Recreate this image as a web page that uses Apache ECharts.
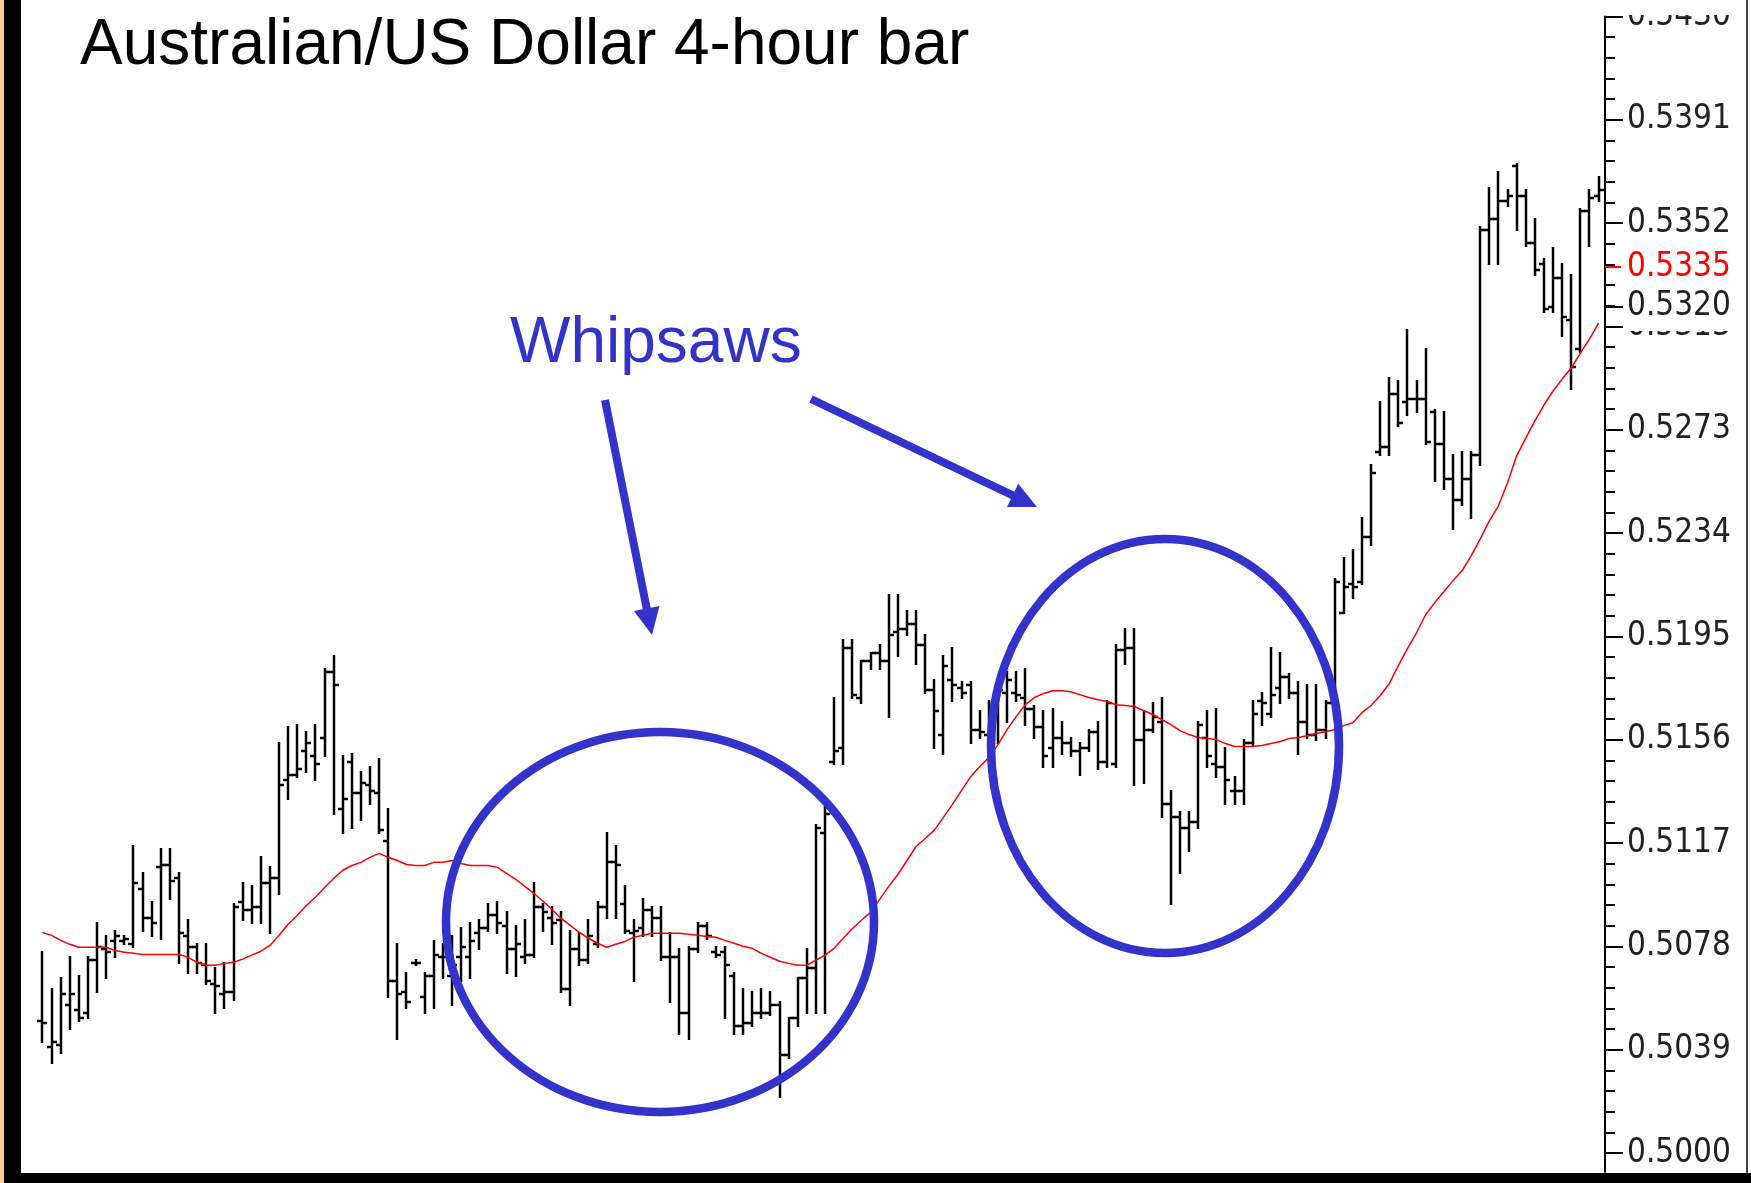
<!DOCTYPE html>
<html>
<head>
<meta charset="utf-8">
<title>Australian/US Dollar 4-hour bar</title>
<script src="https://cdn.jsdelivr.net/npm/echarts@6/dist/echarts.min.js"></script>
<style>
  html, body { margin: 0; padding: 0; background: #fff; }
  #main { width: 1751px; height: 1183px; }
</style>
</head>
<body>
<div id="main"></div>
<script>
// 4-hour OHLC bars
const opens = [
  0.5050,0.5040,0.5041,0.5056,0.5054,0.5053,0.5073,0.5077,0.5080,0.5080,
  0.5079,0.5100,0.5089,0.5108,0.5109,0.5104,0.5082,0.5078,0.5071,0.5064,
  0.5060,0.5061,0.5095,0.5092,0.5093,0.5102,0.5104,0.5141,0.5143,0.5152,
  0.5150,0.5157,0.5182,0.5130,0.5148,0.5136,0.5139,0.5136,0.5118,0.5065,
  0.5061,0.5072,0.5059,0.5067,0.5074,0.5067,0.5074,0.5074,0.5083,0.5085,
  0.5090,0.5086,0.5077,0.5074,0.5075,0.5093,0.5089,0.5088,0.5062,0.5077,
  0.5073,0.5079,0.5093,0.5110,0.5094,0.5083,0.5085,0.5092,0.5089,0.5074,
  0.5074,0.5053,0.5077,0.5086,0.5076,0.5076,0.5067,0.5048,0.5049,0.5053,
  0.5053,0.5056,0.5037,0.5051,0.5066,0.5070,0.5121,0.5148,0.5153,0.5191,
  0.5172,0.5186,0.5189,0.5186,0.5197,0.5198,0.5200,0.5192,0.5175,0.5158,
  0.5179,0.5176,0.5177,0.5160,0.5158,0.5171,0.5174,0.5174,0.5172,0.5168,
  0.5161,0.5153,0.5157,0.5155,0.5152,0.5153,0.5159,0.5148,0.5147,0.5190,
  0.5191,0.5156,0.5160,0.5163,0.5132,0.5127,0.5123,0.5125,0.5157,0.5147,
  0.5146,0.5137,0.5137,0.5155,0.5171,0.5166,0.5176,0.5180,0.5174,0.5163,
  0.5158,0.5160,0.5170,0.5204,0.5215,0.5216,0.5233,0.5265,0.5267,0.5287,
  0.5284,0.5285,0.5285,0.5280,0.5268,0.5255,0.5247,0.5255,0.5264,0.5349,
  0.5353,0.5360,0.5373,0.5362,0.5344,0.5336,0.5320,0.5331,0.5315,0.5304,
  0.5356,0.5362
];
const highs = [
  0.5076,0.5062,0.5066,0.5074,0.5067,0.5074,0.5087,0.5082,0.5084,0.5082,
  0.5116,0.5106,0.5095,0.5115,0.5115,0.5106,0.5088,0.5079,0.5079,0.5070,
  0.5072,0.5094,0.5102,0.5101,0.5112,0.5108,0.5155,0.5161,0.5162,0.5159,
  0.5162,0.5183,0.5188,0.5150,0.5151,0.5144,0.5146,0.5149,0.5130,0.5079,
  0.5068,0.5073,0.5068,0.5080,0.5079,0.5082,0.5085,0.5087,0.5088,0.5094,
  0.5095,0.5091,0.5086,0.5088,0.5102,0.5094,0.5093,0.5091,0.5084,0.5083,
  0.5088,0.5095,0.5121,0.5116,0.5101,0.5088,0.5096,0.5093,0.5093,0.5083,
  0.5077,0.5078,0.5087,0.5087,0.5078,0.5078,0.5068,0.5062,0.5061,0.5062,
  0.5061,0.5057,0.5051,0.5066,0.5077,0.5124,0.5131,0.5172,0.5194,0.5194,
  0.5186,0.5189,0.5192,0.5211,0.5211,0.5205,0.5205,0.5196,0.5179,0.5188,
  0.5191,0.5178,0.5178,0.5167,0.5171,0.5178,0.5182,0.5182,0.5183,0.5169,
  0.5167,0.5168,0.5163,0.5157,0.5155,0.5160,0.5163,0.5171,0.5192,0.5198,
  0.5198,0.5167,0.5170,0.5172,0.5137,0.5129,0.5129,0.5163,0.5167,0.5168,
  0.5153,0.5142,0.5156,0.5171,0.5174,0.5191,0.5189,0.5181,0.5178,0.5177,
  0.5177,0.5171,0.5217,0.5225,0.5228,0.5240,0.5260,0.5284,0.5293,0.5292,
  0.5311,0.5292,0.5304,0.5281,0.5280,0.5264,0.5265,0.5265,0.5350,0.5365,
  0.5371,0.5364,0.5374,0.5364,0.5353,0.5338,0.5342,0.5336,0.5332,0.5357,
  0.5364,0.5369
];
const lows = [
  0.5042,0.5034,0.5038,0.5047,0.5050,0.5051,0.5061,0.5066,0.5074,0.5079,
  0.5078,0.5084,0.5082,0.5081,0.5096,0.5072,0.5068,0.5068,0.5064,0.5053,
  0.5055,0.5058,0.5088,0.5087,0.5087,0.5083,0.5098,0.5134,0.5142,0.5144,
  0.5141,0.5150,0.5128,0.5121,0.5123,0.5126,0.5132,0.5121,0.5059,0.5043,
  0.5055,0.5071,0.5053,0.5055,0.5066,0.5056,0.5065,0.5066,0.5077,0.5084,
  0.5083,0.5068,0.5067,0.5072,0.5074,0.5084,0.5079,0.5061,0.5056,0.5071,
  0.5072,0.5078,0.5089,0.5089,0.5083,0.5065,0.5082,0.5082,0.5073,0.5057,
  0.5045,0.5043,0.5076,0.5081,0.5074,0.5051,0.5045,0.5045,0.5048,0.5051,
  0.5052,0.5021,0.5036,0.5048,0.5053,0.5053,0.5053,0.5147,0.5147,0.5172,
  0.5170,0.5183,0.5183,0.5165,0.5188,0.5196,0.5185,0.5174,0.5153,0.5151,
  0.5171,0.5172,0.5155,0.5157,0.5156,0.5155,0.5163,0.5171,0.5162,0.5157,
  0.5146,0.5146,0.5151,0.5150,0.5143,0.5152,0.5145,0.5146,0.5146,0.5185,
  0.5139,0.5140,0.5159,0.5127,0.5094,0.5106,0.5114,0.5123,0.5146,0.5142,
  0.5132,0.5132,0.5132,0.5154,0.5162,0.5165,0.5170,0.5172,0.5151,0.5157,
  0.5156,0.5157,0.5164,0.5204,0.5210,0.5215,0.5230,0.5264,0.5264,0.5275,
  0.5279,0.5280,0.5268,0.5254,0.5251,0.5236,0.5245,0.5240,0.5260,0.5336,
  0.5336,0.5358,0.5349,0.5343,0.5332,0.5318,0.5318,0.5309,0.5289,0.5303,
  0.5343,0.5360
];
const closes = [
  0.5049,0.5042,0.5060,0.5060,0.5051,0.5073,0.5078,0.5076,0.5082,0.5081,
  0.5102,0.5089,0.5087,0.5109,0.5103,0.5083,0.5078,0.5072,0.5065,0.5063,
  0.5061,0.5093,0.5092,0.5093,0.5102,0.5104,0.5139,0.5143,0.5145,0.5155,
  0.5147,0.5182,0.5177,0.5134,0.5136,0.5140,0.5137,0.5122,0.5065,0.5060,
  0.5057,0.5072,0.5067,0.5075,0.5074,0.5071,0.5078,0.5080,0.5085,0.5090,
  0.5087,0.5077,0.5079,0.5075,0.5093,0.5091,0.5087,0.5062,0.5077,0.5073,
  0.5082,0.5093,0.5110,0.5109,0.5084,0.5084,0.5092,0.5089,0.5074,0.5074,
  0.5053,0.5077,0.5086,0.5082,0.5075,0.5071,0.5048,0.5049,0.5053,0.5053,
  0.5056,0.5037,0.5051,0.5066,0.5070,0.5123,0.5128,0.5152,0.5191,0.5173,
  0.5186,0.5189,0.5186,0.5196,0.5198,0.5200,0.5192,0.5175,0.5167,0.5184,
  0.5177,0.5174,0.5160,0.5159,0.5169,0.5175,0.5179,0.5173,0.5168,0.5161,
  0.5150,0.5157,0.5155,0.5152,0.5153,0.5159,0.5148,0.5170,0.5190,0.5191,
  0.5156,0.5160,0.5165,0.5132,0.5127,0.5123,0.5125,0.5162,0.5150,0.5146,
  0.5141,0.5137,0.5155,0.5166,0.5170,0.5173,0.5180,0.5174,0.5163,0.5158,
  0.5160,0.5170,0.5216,0.5214,0.5214,0.5233,0.5257,0.5267,0.5287,0.5276,
  0.5285,0.5285,0.5269,0.5268,0.5255,0.5247,0.5255,0.5264,0.5349,0.5353,
  0.5360,0.5362,0.5362,0.5344,0.5334,0.5319,0.5331,0.5316,0.5297,0.5356,
  0.5361,0.5364
];
// red moving average
const maValues = [
  0.50834,0.50823,0.50804,0.50789,0.50778,0.50778,0.50778,0.50778,0.50766,0.50759,
  0.50755,0.50751,0.50751,0.50751,0.50751,0.50751,0.50740,0.50721,0.50710,0.50710,
  0.50717,0.50721,0.50733,0.50748,0.50763,0.50785,0.50823,0.50865,0.50899,0.50936,
  0.50967,0.51004,0.51038,0.51069,0.51087,0.51099,0.51118,0.51133,0.51118,0.51106,
  0.51091,0.51087,0.51087,0.51099,0.51099,0.51106,0.51095,0.51087,0.51087,0.51087,
  0.51080,0.51057,0.51035,0.51008,0.50982,0.50952,0.50921,0.50887,0.50861,0.50834,
  0.50812,0.50793,0.50778,0.50789,0.50800,0.50816,0.50823,0.50831,0.50831,0.50831,
  0.50831,0.50827,0.50823,0.50819,0.50816,0.50804,0.50793,0.50782,0.50774,0.50755,
  0.50740,0.50725,0.50717,0.50710,0.50710,0.50729,0.50748,0.50774,0.50812,0.50849,
  0.50880,0.50910,0.50959,0.51008,0.51053,0.51106,0.51159,0.51189,0.51220,0.51269,
  0.51318,0.51371,0.51423,0.51461,0.51495,0.51544,0.51601,0.51650,0.51695,0.51722,
  0.51737,0.51748,0.51748,0.51744,0.51733,0.51722,0.51714,0.51707,0.51695,0.51692,
  0.51688,0.51673,0.51658,0.51639,0.51620,0.51597,0.51582,0.51571,0.51567,0.51563,
  0.51548,0.51537,0.51537,0.51537,0.51541,0.51548,0.51556,0.51567,0.51571,0.51578,
  0.51586,0.51593,0.51601,0.51616,0.51627,0.51665,0.51692,0.51729,0.51775,0.51843,
  0.51907,0.51967,0.52035,0.52081,0.52122,0.52164,0.52201,0.52258,0.52322,0.52390,
  0.52447,0.52534,0.52636,0.52703,0.52768,0.52828,0.52881,0.52926,0.52968,0.53024,
  0.53077,0.53138
];

// price scale
const tickValues = [0.5, 0.50390625, 0.5078125, 0.51171875, 0.515625, 0.51953125,
  0.5234375, 0.52734375, 0.53125, 0.53515625, 0.5390625, 0.54296875];
const tickLabels = ['0.5000', '0.5039', '0.5078', '0.5117', '0.5156', '0.5195',
  '0.5234', '0.5273', '0.5313', '0.5352', '0.5391', '0.5430'];
const maMarker = 0.5335;
const lastPrice = 0.5320;

const yMin = 0.4992826;
const yMax = 0.54296875;

// minor ticks: 5 per major step
const minorTicks = [];
for (let k = 1; k < 55; k++) {
  if (k % 5 !== 0) minorTicks.push(0.5 + k * 0.00078125);
}

const barData = opens.map((o, i) => [i, o, highs[i], lows[i], closes[i]]);
const maData = maValues.map((v, i) => [i, v]);

// the axis font in the picture is narrow; use a narrow face if the box has one
function hasFont(name) {
  const ctx = document.createElement('canvas').getContext('2d');
  const probe = '0.5391 mmmwwwiii';
  ctx.font = '100px monospace';
  const a = ctx.measureText(probe).width;
  ctx.font = '100px "' + name + '", monospace';
  const b = ctx.measureText(probe).width;
  return a !== b;
}
const labelFont = hasFont('Liberation Sans Narrow')
  ? { fontFamily: "'Liberation Sans Narrow', sans-serif", fontSize: 35, color: '#222' }
  : { fontFamily: "'DejaVu Sans Condensed', 'Liberation Sans', sans-serif", fontSize: 33, color: '#222' };

function priceAxis(extra) {
  return Object.assign({
    type: 'value',
    position: 'right',
    min: yMin,
    max: yMax,
    splitLine: { show: false },
    axisLine: { show: false, onZero: false },
    axisTick: { show: false },
    axisLabel: { show: false }
  }, extra);
}

function renderOhlc(params, api) {
  const i = api.value(0);
  const hi = api.coord([i, api.value(2)]);
  const lo = api.coord([i, api.value(3)]);
  const op = api.coord([i, api.value(1)]);
  const cl = api.coord([i, api.value(4)]);
  const x = Math.round(hi[0]);
  const tick = 5;
  const style = { stroke: '#000', lineWidth: 2.5 };
  return {
    type: 'group',
    children: [
      { type: 'line', shape: { x1: x, y1: Math.round(hi[1]) - 1, x2: x, y2: Math.round(lo[1]) + 1 }, style: style },
      { type: 'line', shape: { x1: x - tick, y1: Math.round(op[1]), x2: x, y2: Math.round(op[1]) }, style: style },
      { type: 'line', shape: { x1: x, y1: Math.round(cl[1]), x2: x + tick, y2: Math.round(cl[1]) }, style: style }
    ]
  };
}

// annotations drawn over the chart
const blue = '#3333cc';
const ellipses = [
  { cx: 660, cy: 922, rx: 214, ry: 190 },
  { cx: 1165, cy: 746, rx: 174, ry: 207 }
];
const arrows = [
  { from: [605, 400], to: [652, 635] },
  { from: [811, 399], to: [1037, 507] }
];

function arrowShapes(a) {
  const dx = a.to[0] - a.from[0];
  const dy = a.to[1] - a.from[1];
  const len = Math.sqrt(dx * dx + dy * dy);
  const ux = dx / len, uy = dy / len;
  const headLen = 27, headW = 26;
  const bx = a.to[0] - ux * headLen, by = a.to[1] - uy * headLen;
  return [
    {
      type: 'line', z: 100,
      shape: { x1: a.from[0], y1: a.from[1], x2: bx + ux * 3, y2: by + uy * 3 },
      style: { stroke: blue, lineWidth: 8 }
    },
    {
      type: 'polygon', z: 100,
      shape: { points: [a.to, [bx - uy * headW / 2, by + ux * headW / 2], [bx + uy * headW / 2, by - ux * headW / 2]] },
      style: { fill: blue }
    }
  ];
}

const graphics = [
  { type: 'rect', z: 100, shape: { x: 1607, y: 0, width: 138, height: 15 }, style: { fill: '#fff' } },
  { type: 'rect', z: 100, shape: { x: 0, y: 0, width: 4, height: 1183 }, style: { fill: '#ffcc99' } },
  { type: 'rect', z: 100, shape: { x: 4, y: 0, width: 17, height: 1183 }, style: { fill: '#000' } },
  { type: 'rect', z: 100, shape: { x: 4, y: 1173, width: 1747, height: 10 }, style: { fill: '#000' } },
  { type: 'rect', z: 100, shape: { x: 1746, y: 0, width: 2, height: 1173 }, style: { fill: '#444' } }
];
ellipses.forEach(e => {
  graphics.push({ type: 'ellipse', z: 100, shape: e, style: { fill: null, stroke: blue, lineWidth: 8.5 } });
});
arrows.forEach(a => arrowShapes(a).forEach(s => graphics.push(s)));

const chart = echarts.init(document.getElementById('main'));
chart.setOption({
  animation: false,
  backgroundColor: '#fff',
  title: [
    {
      text: 'Australian/US Dollar 4-hour bar',
      left: 80, top: 14, padding: 0,
      textStyle: { fontFamily: "'Liberation Sans', Arial, sans-serif", fontSize: 64, fontWeight: 'normal', color: '#000' }
    },
    {
      text: 'Whipsaws',
      left: 510, top: 312, padding: 0,
      textStyle: { fontFamily: "'Liberation Sans', Arial, sans-serif", fontSize: 64, fontWeight: 'normal', color: blue }
    }
  ],
  grid: { left: 22, right: 146, top: 15, bottom: 11 },
  xAxis: { type: 'value', min: -2.25, max: 171.71, show: false },
  yAxis: [
    priceAxis({
      axisLine: { show: true, onZero: false, lineStyle: { color: '#000', width: 2 } },
      axisTick: { show: true, length: 18, customValues: tickValues, lineStyle: { color: '#000', width: 2 } },
      axisLabel: Object.assign({
        show: true, customValues: tickValues, margin: 22, padding: [5, 0, 0, 0],
        formatter: v => {
          const k = tickValues.indexOf(v);
          return k >= 0 ? tickLabels[k] : v.toFixed(4);
        }
      }, labelFont)
    }),
    priceAxis({
      axisTick: { show: true, length: 10, customValues: minorTicks, lineStyle: { color: '#000', width: 2 } }
    }),
    priceAxis({
      axisTick: { show: true, length: 16, customValues: [maMarker], lineStyle: { color: '#ff0000', width: 2 } },
      axisLabel: Object.assign({
        show: true, customValues: [maMarker], margin: 22, padding: [5, 0, 0, 0],
        formatter: v => v.toFixed(4)
      }, labelFont, { color: '#ff0000' })
    }),
    priceAxis({
      z: 5,
      axisTick: { show: true, length: 18, customValues: [lastPrice], lineStyle: { color: '#000', width: 2 } },
      axisLabel: Object.assign({
        show: true, customValues: [lastPrice], margin: 22, padding: [5, 4, 11, 0],
        backgroundColor: '#fff',
        formatter: v => v.toFixed(4)
      }, labelFont)
    })
  ],
  series: [
    {
      name: 'AUD/USD',
      type: 'custom',
      renderItem: renderOhlc,
      data: barData,
      encode: { x: 0, y: [1, 2, 3, 4] },
      z: 2
    },
    {
      name: 'MA',
      type: 'line',
      data: maData,
      showSymbol: false,
      smooth: false,
      lineStyle: { color: '#ff0000', width: 1.5 },
      z: 3
    }
  ],
  graphic: graphics
});
</script>
</body>
</html>
